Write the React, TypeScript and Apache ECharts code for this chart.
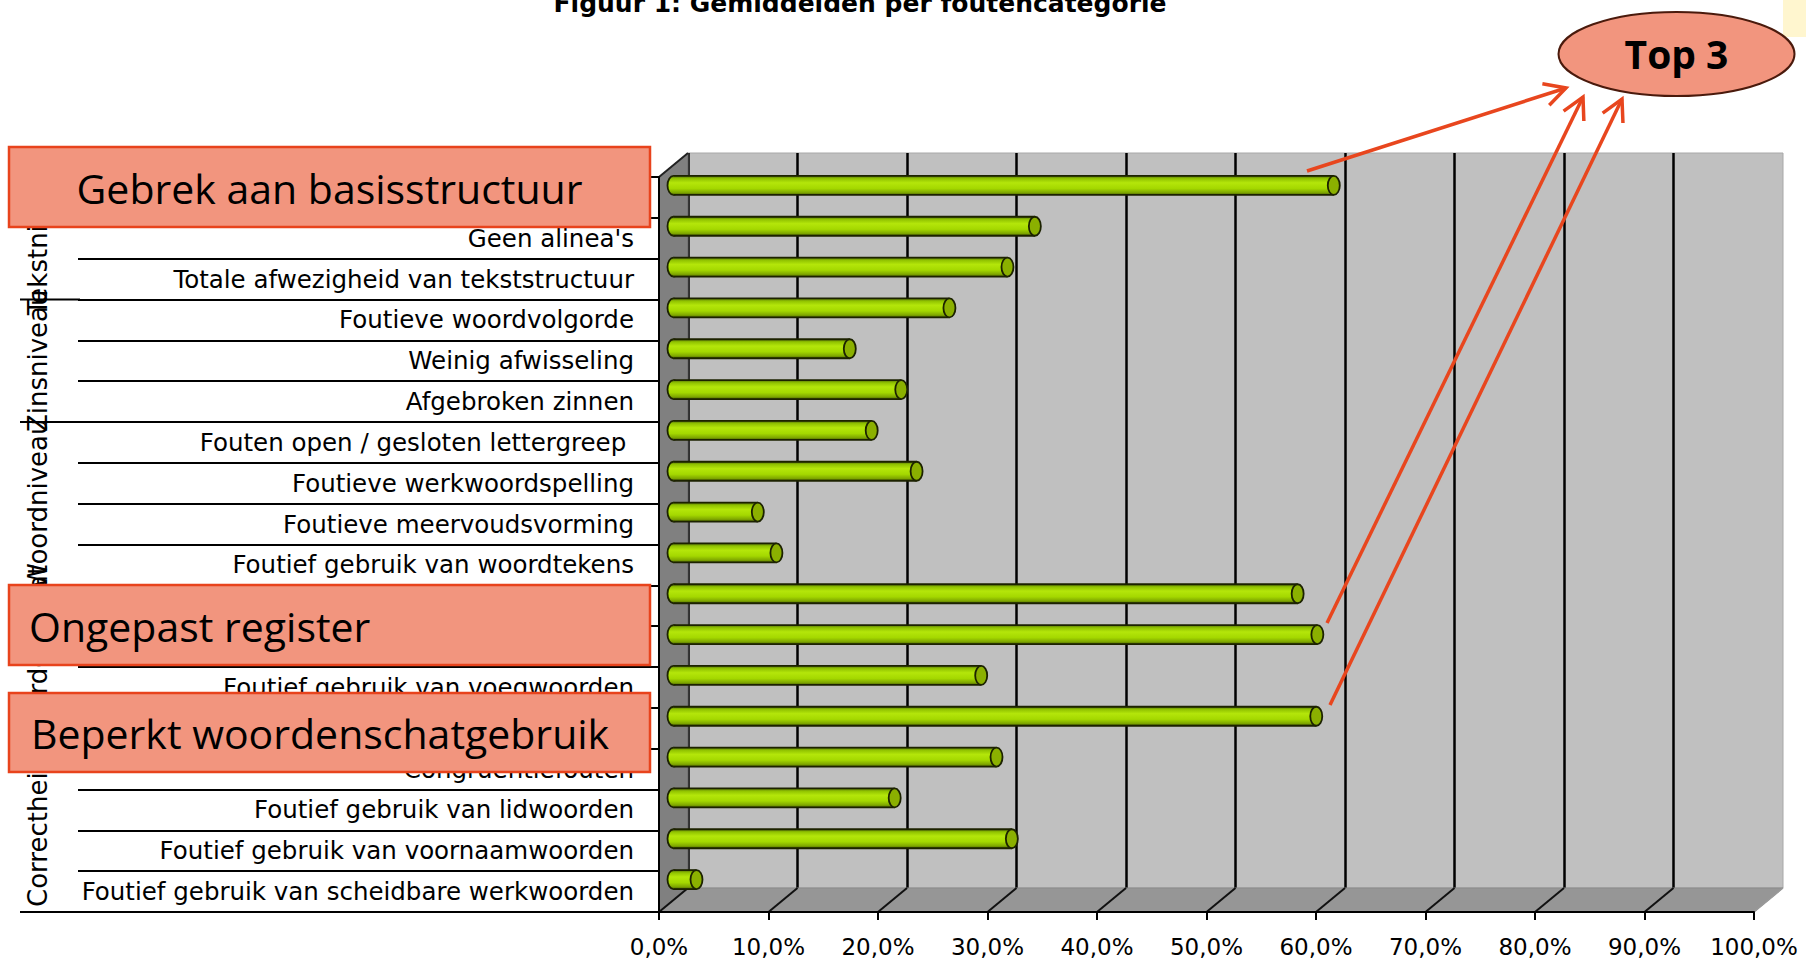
import React, { useEffect, useRef } from 'react';
import * as echarts from 'echarts';

// ---------- data ----------
const chartTitle = 'Figuur 1: Gemiddelden per foutencategorie';

const categories = [
  'Gebrek aan basisstructuur',
  "Geen alinea's",
  'Totale afwezigheid van tekststructuur',
  'Foutieve woordvolgorde',
  'Weinig afwisseling',
  'Afgebroken zinnen',
  'Fouten open / gesloten lettergreep ',
  'Foutieve werkwoordspelling',
  'Foutieve meervoudsvorming',
  'Foutief gebruik van woordtekens',
  '',
  'Ongepast register',
  'Foutief gebruik van voegwoorden',
  'Beperkt woordenschatgebruik',
  'Congruentiefouten',
  'Foutief gebruik van lidwoorden',
  'Foutief gebruik van voornaamwoorden',
  'Foutief gebruik van scheidbare werkwoorden',
];

const values = [60.3, 33.0, 30.5, 25.2, 16.1, 20.8, 18.1, 22.2, 7.7, 9.4, 57.0, 58.8, 28.1, 58.7, 29.5, 20.2, 30.9, 2.1];

const groupNames = ['Tekstniveau', 'Zinsniveau', 'Woordniveau', 'Correctheid woordenschat'];
const groupSizes = [3, 3, 4, 8];

// category labels covered by the callout boxes
const coveredLabelIndices = [0, 10, 11, 13];

const xMin = 0;
const xMax = 100;
const xInterval = 10;

const calloutTexts = ['Gebrek aan basisstructuur', 'Ongepast register', 'Beperkt woordenschatgebruik'];
const topLabel = 'Top 3';

// ---------- layout ----------
const FRONT = { left: 659, top: 177, width: 1095, height: 735 };
const DX = 29;
const DY = -24;

const LABEL_FONT = '"DejaVu Sans", Verdana, sans-serif';
const CALLOUT_FONT = '"Open Sans", "Noto Sans", sans-serif';

const fmtPct = (v: number) => v.toFixed(1).replace('.', ',') + '%';

function measure(text: string, font: string): number {
  const c = document.createElement('canvas');
  const ctx = c.getContext('2d');
  if (!ctx) return text.length * 14;
  ctx.font = font;
  return ctx.measureText(text).width;
}

function arrow(x1: number, y1: number, x2: number, y2: number, z: number) {
  const col = '#E8461E';
  const ang = Math.atan2(y2 - y1, x2 - x1);
  const len = 24;
  const spread = (28 * Math.PI) / 180;
  const a1 = [x2 - len * Math.cos(ang - spread), y2 - len * Math.sin(ang - spread)];
  const a2 = [x2 - len * Math.cos(ang + spread), y2 - len * Math.sin(ang + spread)];
  return [
    { type: 'line', z, shape: { x1, y1, x2, y2 }, style: { stroke: col, lineWidth: 3.5 } },
    {
      type: 'polyline',
      z,
      shape: { points: [a1, [x2, y2], a2] },
      style: { stroke: col, lineWidth: 3.5, fill: null },
    },
  ];
}

export default function App() {
  const ref = useRef<HTMLDivElement>(null);

  useEffect(() => {
    document.body.style.margin = '0';
    const chart = echarts.init(ref.current as HTMLDivElement, null, { renderer: 'svg' });

    const barGrad = () =>
      new echarts.graphic.LinearGradient(0, 0, 0, 1, [
        { offset: 0, color: '#55700a' },
        { offset: 0.14, color: '#90c200' },
        { offset: 0.36, color: '#b4e60a' },
        { offset: 0.66, color: '#a4d800' },
        { offset: 0.88, color: '#7ea600' },
        { offset: 1, color: '#485f00' },
      ]);

    const option: any = {
      animation: false,
      backgroundColor: '#ffffff',
      grid: [
        { left: FRONT.left, top: FRONT.top, width: FRONT.width, height: FRONT.height, show: false },
        {
          left: FRONT.left + DX,
          top: FRONT.top + DY,
          width: FRONT.width,
          height: FRONT.height,
          show: true,
          backgroundColor: '#C0C0C0',
          borderColor: '#A8A8A8',
          borderWidth: 1,
        },
        { left: FRONT.left + DX / 2, top: FRONT.top + DY / 2, width: FRONT.width, height: FRONT.height, show: false },
      ],
      xAxis: [
        {
          gridIndex: 0,
          type: 'value',
          min: xMin,
          max: xMax,
          interval: xInterval,
          z: 5,
          axisLine: { show: true, lineStyle: { color: '#000', width: 2 } },
          axisTick: { show: true, length: 8, lineStyle: { color: '#000', width: 2 } },
          axisLabel: {
            formatter: (v: number) => fmtPct(v),
            fontFamily: LABEL_FONT,
            fontSize: 23,
            color: '#000',
            margin: 23,
          },
          splitLine: { show: false },
        },
        {
          gridIndex: 1,
          type: 'value',
          min: xMin,
          max: xMax,
          interval: xInterval,
          axisLine: { show: false },
          axisTick: { show: false },
          axisLabel: { show: false },
          splitLine: { show: true, showMaxLine: false, lineStyle: { color: '#000', width: 2.5 } },
        },
        { gridIndex: 2, type: 'value', min: xMin, max: xMax, interval: xInterval, show: false },
      ],
      yAxis: [
        {
          gridIndex: 0,
          type: 'category',
          inverse: true,
          data: categories,
          z: 5,
          axisLine: { show: true, onZero: false, lineStyle: { color: '#000', width: 2 } },
          axisTick: { show: true, length: 581, lineStyle: { color: '#000', width: 2 } },
          axisLabel: {
            interval: 0,
            margin: 25,
            fontFamily: LABEL_FONT,
            fontSize: 24.5,
            color: '#000',
            formatter: (v: string, i: number) => (coveredLabelIndices.includes(i) ? '' : v),
          },
          splitLine: { show: false },
        },
        { gridIndex: 1, type: 'category', inverse: true, data: categories, show: false },
        { gridIndex: 2, type: 'category', inverse: true, data: categories, show: false },
      ],
      series: [
        {
          type: 'custom',
          xAxisIndex: 2,
          yAxisIndex: 2,
          z: 3,
          clip: false,
          data: values.map((v, i) => [v, i]),
          encode: { x: 0, y: 1 },
          renderItem: (_params: any, api: any) => {
            const v = api.value(0) as number;
            const idx = api.value(1) as number;
            const p0 = api.coord([0, idx]);
            const p1 = api.coord([v, idx]);
            const h = 19;
            const r = 6;
            const yTop = p0[1] - h / 2;
            const stroke = '#1c2200';
            return {
              type: 'group',
              children: [
                { type: 'ellipse', shape: { cx: p0[0], cy: p0[1], rx: r, ry: h / 2 }, style: { fill: barGrad(), stroke, lineWidth: 1.8 } },
                { type: 'rect', shape: { x: p0[0], y: yTop, width: Math.max(p1[0] - p0[0], 0), height: h }, style: { fill: barGrad() } },
                { type: 'line', shape: { x1: p0[0], y1: yTop, x2: p1[0], y2: yTop }, style: { stroke, lineWidth: 1.8 } },
                { type: 'line', shape: { x1: p0[0], y1: yTop + h, x2: p1[0], y2: yTop + h }, style: { stroke, lineWidth: 1.8 } },
                { type: 'ellipse', shape: { cx: p1[0], cy: p1[1], rx: r, ry: h / 2 }, style: { fill: '#8bb000', stroke, lineWidth: 1.8 } },
              ],
            };
          },
        },
      ],
    };

    chart.setOption(option);

    // ---------- decorations derived from the axes ----------
    const fx = (v: number) => chart.convertToPixel({ xAxisIndex: 0 } as any, v) as number;
    const bx = (v: number) => chart.convertToPixel({ xAxisIndex: 1 } as any, v) as number;
    const cy = (i: number) => chart.convertToPixel({ yAxisIndex: 0 } as any, i) as number;

    const frontTop = FRONT.top;
    const frontBottom = FRONT.top + FRONT.height;
    const backTop = frontTop + DY;
    const backBottom = frontBottom + DY;
    const x0f = fx(xMin);
    const x1f = fx(xMax);
    const x0b = bx(xMin);
    const x1b = bx(xMax);

    const g: any[] = [];

    // side wall and floor
    g.push({
      type: 'polygon',
      z: 1,
      shape: { points: [[x0f, frontTop], [x0b, backTop], [x0b, backBottom], [x0f, frontBottom]] },
      style: { fill: '#808080', stroke: '#6a6a6a', lineWidth: 1 },
    });
    g.push({
      type: 'polygon',
      z: 1,
      shape: { points: [[x0f, frontBottom], [x0b, backBottom], [x1b, backBottom], [x1f, frontBottom]] },
      style: { fill: '#969696', stroke: '#8a8a8a', lineWidth: 1 },
    });
    g.push({ type: 'line', z: 2, shape: { x1: x0f, y1: frontTop, x2: x0b, y2: backTop }, style: { stroke: '#222', lineWidth: 2 } });
    for (let v = xMin; v <= xMax; v += xInterval) {
      const a = fx(v);
      const b = bx(v);
      const isEnd = v === xMax;
      g.push({
        type: 'line',
        z: 2,
        shape: { x1: a, y1: frontBottom, x2: b, y2: backBottom },
        style: { stroke: isEnd ? '#9a9a9a' : '#111', lineWidth: isEnd ? 1.5 : 2 },
      });
    }

    // group separators and group labels
    const band = cy(1) - cy(0);
    const groupFont = `26px ${LABEL_FONT}`;
    let start = 0;
    groupSizes.forEach((n, gi) => {
      const end = start + n - 1;
      const yb = cy(end) + band / 2;
      g.push({ type: 'line', z: 5, shape: { x1: 20, y1: yb, x2: 80, y2: yb }, style: { stroke: '#000', lineWidth: 2 } });
      let yc = (cy(start) + cy(end)) / 2;
      const half = measure(groupNames[gi], groupFont) / 2;
      if (yc + half > frontBottom - 5) yc = frontBottom - 5 - half;
      g.push({
        type: 'text',
        z: 5,
        x: 38,
        y: yc,
        rotation: Math.PI / 2,
        style: {
          text: groupNames[gi],
          font: groupFont,
          fill: '#000',
          align: 'center',
          verticalAlign: 'middle',
          textAlign: 'center',
          textVerticalAlign: 'middle',
        },
      });
      start += n;
    });

    // title
    g.push({
      type: 'text',
      z: 20,
      x: 860,
      y: 3.5,
      style: {
        text: chartTitle,
        font: `bold 25px ${LABEL_FONT}`,
        fill: '#000',
        align: 'center',
        verticalAlign: 'middle',
        textAlign: 'center',
        textVerticalAlign: 'middle',
      },
    });

    // callout boxes
    const boxFill = '#F2957E';
    const boxStroke = '#E8431C';
    const boxes = [
      { y: 147, h: 80, tx: 329.5, ty: 188, align: 'center' },
      { y: 585, h: 80, tx: 29, ty: 626, align: 'left' },
      { y: 693, h: 79, tx: 31, ty: 732.5, align: 'left' },
    ];
    boxes.forEach((b, i) => {
      g.push({
        type: 'rect',
        z: 10,
        shape: { x: 9, y: b.y, width: 641, height: b.h },
        style: { fill: boxFill, stroke: boxStroke, lineWidth: 2.5 },
      });
      g.push({
        type: 'text',
        z: 11,
        x: b.tx,
        y: b.ty,
        style: {
          text: calloutTexts[i],
          font: `41px ${CALLOUT_FONT}`,
          fill: '#000',
          align: b.align,
          verticalAlign: 'middle',
          textAlign: b.align,
          textVerticalAlign: 'middle',
        },
      });
    });

    // Top 3 ellipse
    g.push({ type: 'rect', z: 9, shape: { x: 1783, y: 0, width: 23, height: 37 }, style: { fill: '#FFF6CF' } });
    g.push({
      type: 'ellipse',
      z: 10,
      shape: { cx: 1676.5, cy: 54, rx: 118, ry: 42 },
      style: { fill: boxFill, stroke: '#4A1A0C', lineWidth: 2 },
    });
    g.push({
      type: 'text',
      z: 11,
      x: 1676.5,
      y: 53,
      style: {
        text: topLabel,
        font: `bold 39px ${CALLOUT_FONT}`,
        fill: '#000',
        align: 'center',
        verticalAlign: 'middle',
        textAlign: 'center',
        textVerticalAlign: 'middle',
      },
    });

    // arrows
    g.push(...arrow(1307, 171, 1566, 88, 12));
    g.push(...arrow(1327, 623, 1583, 97, 12));
    g.push(...arrow(1330, 705, 1622, 99, 12));

    chart.setOption({ graphic: g });

    return () => chart.dispose();
  }, []);

  return <div ref={ref} style={{ width: 1806, height: 963 }} />;
}
